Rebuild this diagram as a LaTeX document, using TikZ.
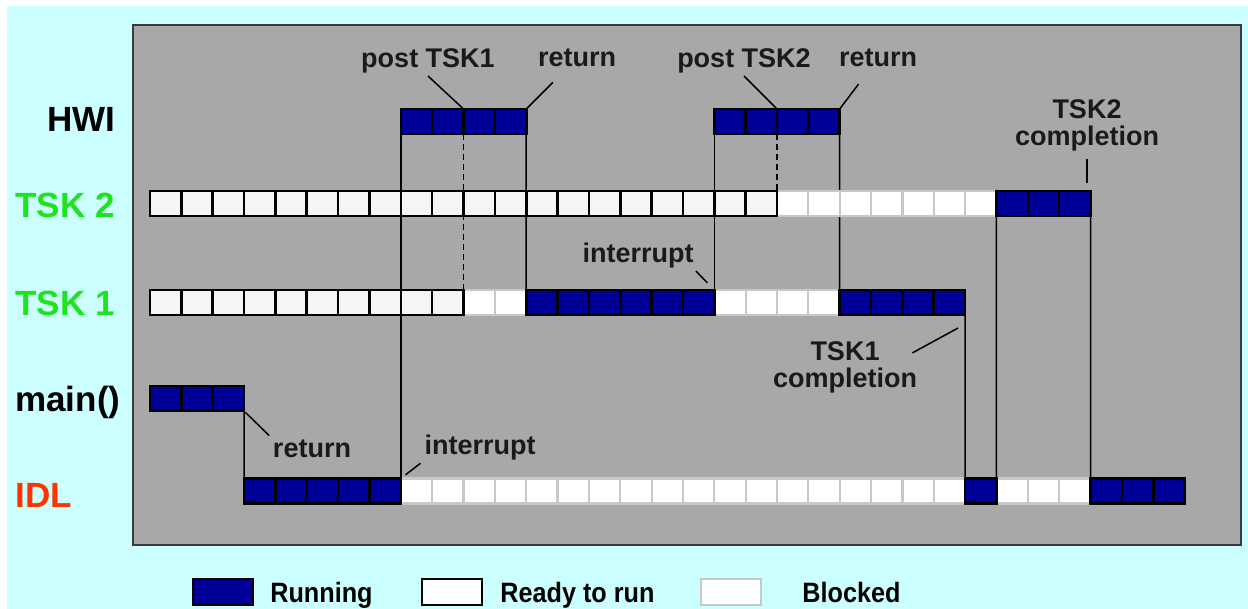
\documentclass[tikz,border=0pt]{standalone}
\usepackage{fontspec}
\setmainfont{Liberation Sans}
\newfontfamily\keyfont[FakeStretch=0.9]{Liberation Sans}
\usetikzlibrary{positioning}
\definecolor{skyback}{RGB}{204,255,255}
\definecolor{panelgray}{RGB}{168,168,168}
\definecolor{panelline}{RGB}{58,58,58}
\definecolor{runblue}{RGB}{0,0,153}
\definecolor{readyfill}{RGB}{245,245,245}
\definecolor{blockedge}{RGB}{200,200,200}
\definecolor{tskgreen}{RGB}{30,228,30}
\definecolor{idlred}{RGB}{255,51,0}
\definecolor{notetext}{RGB}{26,26,26}
\pgfdeclarelayer{panel}
\pgfdeclarelayer{wires}
\pgfsetlayers{panel,wires,main}
\tikzset{
  cell/.style={draw,line width=1.3pt,minimum width=15.675pt,minimum height=12.5pt,inner sep=0pt,outer sep=0pt},
  runcell/.style={cell,fill=runblue},
  readycell/.style={cell,fill=readyfill},
  blockcell/.style={cell,draw=blockedge,line width=1.1pt,fill=white},
  link/.style={line width=0.75pt},
  leader/.style={line width=0.75pt},
  note/.style={font=\fontsize{13.5}{13.5}\selectfont\bfseries,align=center,inner sep=1pt,text=notetext},
  rowlabel/.style={font=\fontsize{17.5}{20}\selectfont\bfseries,anchor=base west,inner sep=0pt},
  keytext/.style={font=\keyfont\fontsize{14}{16}\selectfont\bfseries,anchor=base west,inner sep=0pt}
}
% one run of time slots: row name, y, first slot, last slot, style
\newcommand{\slots}[5]{%
  \foreach \k in {#3,...,#4}
    \node[#5] (#1-\k) at ({150+31.35*(\k+0.5)},#2) {};
}

\begin{document}
\begin{tikzpicture}[x=0.5pt,y=-0.5pt]
  \useasboundingbox (0,0) rectangle (1248,609);
  \begin{pgfonlayer}{panel}
    \fill[skyback] (7,6) rectangle (1248,609);
    \draw[panelline,line width=1pt,fill=panelgray] (133,25) rectangle (1241,545);
  \end{pgfonlayer}

  % row labels
  \node[rowlabel] (lbl-hwi) at (47,132) {HWI};
  \node[rowlabel,text=tskgreen] (lbl-tsk2) at (15,218) {TSK 2};
  \node[rowlabel,text=tskgreen] (lbl-tsk1) at (15,315) {TSK 1};
  \node[rowlabel] (lbl-main) at (15,411) {main()};
  \node[rowlabel,text=idlred] (lbl-idl) at (15,507) {IDL};

  % time slots (blocked first so the black edges stay on top)
  \slots{hwi}{121.5}{8}{11}{runcell}
  \slots{hwi}{121.5}{18}{21}{runcell}
  \slots{tsk2}{203.5}{20}{26}{blockcell}
  \slots{tsk2}{203.5}{0}{19}{readycell}
  \slots{tsk2}{203.5}{27}{29}{runcell}
  \slots{tsk1}{302.5}{10}{11}{blockcell}
  \slots{tsk1}{302.5}{18}{21}{blockcell}
  \slots{tsk1}{302.5}{0}{9}{readycell}
  \slots{tsk1}{302.5}{12}{17}{runcell}
  \slots{tsk1}{302.5}{22}{25}{runcell}
  \slots{main}{398.5}{0}{2}{runcell}
  \slots{idl}{491}{8}{25}{blockcell}
  \slots{idl}{491}{27}{29}{blockcell}
  \slots{idl}{491}{3}{7}{runcell}
  \slots{idl}{491}{26}{26}{runcell}
  \slots{idl}{491}{30}{32}{runcell}

  % context switches
  \begin{pgfonlayer}{wires}
    \draw[link] (main-2.south east) -- (idl-3.north west);
    \draw[link] (hwi-8.south west) -- (idl-8.north west);
    \draw[link,dash pattern=on 3pt off 2pt] (hwi-10.south west) -- (tsk1-10.north west);
    \draw[link] (hwi-11.south east) -- (tsk1-12.north west);
    \draw[link] (hwi-18.south west) -- (tsk1-18.north west);
    \draw[link,dash pattern=on 3pt off 2pt] (hwi-20.south west) -- (tsk2-20.north west);
    \draw[link] (hwi-21.south east) -- (tsk1-22.north west);
    \draw[link] (tsk1-25.south east) -- (idl-26.north west);
    \draw[link] (tsk2-27.south west) -- (idl-26.north east);
    \draw[link] (tsk2-29.south east) -- (idl-30.north west);
  \end{pgfonlayer}

  % notes
  \node[note,anchor=base] (post1) at (428,68) {post TSK1};
  \node[note,anchor=base] (ret1) at (577,67) {return};
  \node[note,anchor=base] (post2) at (744,68) {post TSK2};
  \node[note,anchor=base] (ret2) at (878,67) {return};
  \node[note,anchor=base] (int1) at (638,263) {interrupt};
  \node[note,anchor=base] (int2) at (480,454) {interrupt};
  \node[note,anchor=base] (ret3) at (312,457) {return};
  \node[note] (tsk2c) at (1087,125) {TSK2\\completion};
  \node[note] (tsk1c) at (845,367) {TSK1\\completion};
  \draw[leader] (post1.south) -- (hwi-10.north west);
  \draw[leader,shorten <=9pt] (ret1) -- (hwi-11.north east);
  \draw[leader] (post2.south) -- (hwi-20.north west);
  \draw[leader,shorten <=9pt] (ret2) -- (hwi-21.north east);
  \draw[leader,shorten >=5pt] (int1.south east) -- (tsk1-18.north west);
  \draw[leader,shorten <=1pt,shorten >=3pt] (int2.south west) -- (idl-7.north east);
  \draw[leader,shorten <=1pt,shorten >=1pt] (ret3.north west) -- (main-2.south east);
  \draw[leader,shorten <=3pt,shorten >=4pt] (tsk2c.south) -- (tsk2c.south |- tsk2-29.north);
  \draw[leader] ([shift={(-7,14)}]tsk1c.north east) -- ([shift={(-7,13)}]tsk1-25.south east);

  % key
  \node[runcell,minimum width=30pt,minimum height=13pt] (key-run) at (223,592) {};
  \node[keytext] (key-run-txt) at (270,602) {Running};
  \node[readycell,fill=white,minimum width=30pt,minimum height=13pt] (key-ready) at (452,592) {};
  \node[keytext] (key-ready-txt) at (500,602) {Ready to run};
  \node[blockcell,minimum width=30pt,minimum height=13pt] (key-block) at (731,592) {};
  \node[keytext] (key-block-txt) at (802,602) {Blocked};
\end{tikzpicture}
\end{document}
